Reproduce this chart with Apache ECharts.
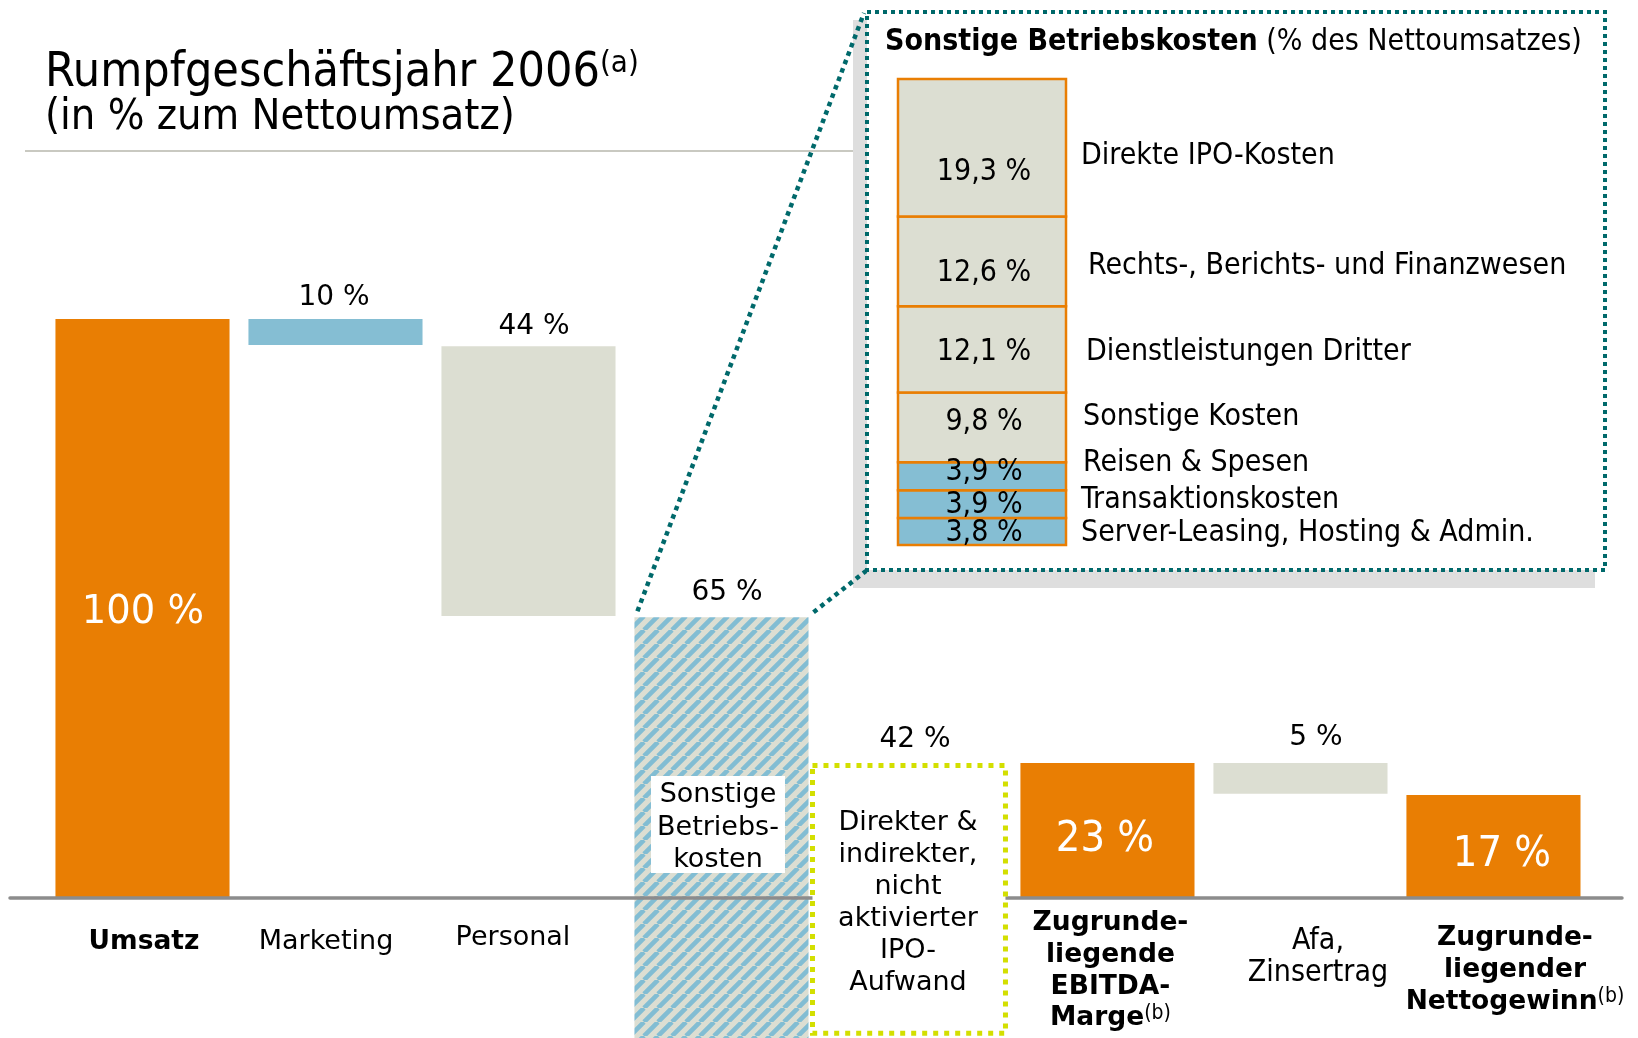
<!DOCTYPE html>
<html><head><meta charset="utf-8">
<script src="https://cdn.jsdelivr.net/npm/echarts@6/dist/echarts.min.js"></script>
<style>html,body{margin:0;padding:0;background:#fff}#c{width:1638px;height:1038px}</style>
</head><body><div id="c"></div>
<script>
// ---------- data ----------
const categories = ['Umsatz','Marketing','Personal','Sonstige Betriebskosten','IPO-Aufwand','EBITDA-Marge','Afa, Zinsertrag','Nettogewinn'];
const tickLabels = ['Umsatz','Marketing','Personal','Sonstige\nBetriebs-\nkosten',
  'Direkter &\nindirekter,\nnicht\naktivierter\nIPO-\nAufwand',
  'Zugrunde-\nliegende\nEBITDA-\nMarge(b)','Afa,\nZinsertrag','Zugrunde-\nliegender\nNettogewinn(b)'];
const valueLabels = ['100 %','10 %','44 %','65 %','42 %','23 %','5 %','17 %'];
// schematic bar extents as drawn (top, bottom) in chart units, Umsatz = 100
const barTop    = [100, 100, 95.3, 48.5, 23.3, 23.3, 23.3, 17.8];
const barBottom = [0, 95.5, 48.7, -24.2, -23.8, 0, 18.0, 0];

// inset: Sonstige Betriebskosten, bottom to top
const insetNames  = ['Server-Leasing, Hosting & Admin.','Transaktionskosten','Reisen & Spesen','Sonstige Kosten','Dienstleistungen Dritter','Rechts-, Berichts- und Finanzwesen','Direkte IPO-Kosten'];
const insetValues = [3.8, 3.9, 3.9, 9.8, 12.1, 12.6, 19.3];
const insetLabels = ['3,8 %','3,9 %','3,9 %','9,8 %','12,1 %','12,6 %','19,3 %'];

// ---------- styles ----------
const ORANGE = '#e97e03', BLUE = '#85bed3', BEIGE = '#dcded2', TEAL = '#00696b', LIME = '#d3df00';
const SANS = "'DejaVu Sans', Verdana, sans-serif";
const COND = "'DejaVu Sans Condensed', 'DejaVu Sans', sans-serif";
const TDY = 2; // text baseline nudge

function hatchCanvas(){
  const s = 14, c = document.createElement('canvas'); c.width = c.height = s;
  const g = c.getContext('2d');
  g.fillStyle = BEIGE; g.fillRect(0,0,s,s);
  g.strokeStyle = '#82bdd3'; g.lineWidth = 4.6; g.beginPath();
  for (const o of [-s, 0, s]) { g.moveTo(o, s); g.lineTo(o + s, 0); }
  g.stroke();
  return c;
}
const HATCH = {image: hatchCanvas(), repeat: 'repeat'};

const mainStyle = [
  {fill:ORANGE, vPos:'in', vdx:0.5, vdy:3, vSize:38.5, vFam:SANS, key:'b', ldx:1.5, ly:42, lh:31.7},
  {fill:BLUE, vPos:'top', vdx:-1.5, vdy:-23, key:'n', ldx:-9.5, ly:42, lh:32},
  {fill:BEIGE, vPos:'top', vdx:5.5, vdy:-21, key:'n', ldx:-15.5, ly:38, lh:32},
  {fill:HATCH, vPos:'top', vdx:5.5, vdy:-26, key:'n', ldx:-3.5, ly:-105, lh:32.5, box:[-70.5,-122,134,97], connect:true},
  {fill:'ipo', dx:-5.5, w:193, vPos:'top', vdx:0.5, vdy:-25, key:'n', ldx:-6.5, ly:-77, lh:32},
  {fill:ORANGE, vPos:'in', vdx:-2.5, vdy:7.5, vSize:43, vFam:COND, key:'b', ldx:3, ly:23.5, lh:31.7},
  {fill:BEIGE, vPos:'top', vdx:15.5, vdy:-27, key:'c', ldx:17.5, ly:41, lh:32},
  {fill:ORANGE, vPos:'in', vdx:8.5, vdy:6.5, vSize:43, vFam:COND, key:'b', ldx:21.5, ly:38.5, lh:32}
];
const insetStyle = [
  {fill:BLUE, vdy:0, ndx:15, ndy:0},
  {fill:BLUE, vdy:-1, ndx:15, ndy:-6},
  {fill:BLUE, vdy:-6, ndx:17, ndy:-15},
  {fill:BEIGE, vdy:-7, ndx:17, ndy:-12},
  {fill:BEIGE, vdy:1, ndx:20, ndy:1},
  {fill:BEIGE, vdy:10, ndx:22, ndy:3},
  {fill:BEIGE, vdy:22, ndx:15, ndy:6}
];

function richFor(lh){
  return {
    b:{fontFamily:SANS, fontWeight:'bold', fontSize:26.5, lineHeight:lh, color:'#000'},
    n:{fontFamily:SANS, fontWeight:'normal', fontSize:27, lineHeight:lh, color:'#000'},
    c:{fontFamily:COND, fontWeight:'normal', fontSize:30, lineHeight:lh, color:'#000'},
    s:{fontFamily:COND, fontWeight:'normal', fontSize:21, lineHeight:lh, verticalAlign:'top', color:'#000'}
  };
}
function toRich(label, key){
  return label.split('\n').map(l => {
    const m = l.match(/^(.*)(\([a-z]\))$/);
    return m ? `{${key}|${m[1]}}{s|${m[2]}}` : `{${key}|${l}}`;
  }).join('\n');
}

// ---------- rendering ----------
function renderMain(params, api, layer){
  const i = params.dataIndex;
  const st = mainStyle[i];
  const unit = api.size([1,0])[0];
  const ctr = api.coord([api.value(0), 0]);
  const axisY = ctr[1];
  const cx = ctr[0] + (st.dx || 0);
  const yTop = api.coord([api.value(0), api.value(1)])[1];
  const yBot = api.coord([api.value(0), api.value(2)])[1];
  const w = st.w || unit * 0.902;
  const children = [];
  if (layer === 'bars') {
    if (st.fill !== 'ipo') {
      children.push({type:'rect', shape:{x:cx - w/2, y:yTop, width:w, height:yBot - yTop}, style:{fill:st.fill}});
    }
    return {type:'group', children};
  }
  if (st.fill === 'ipo') {
    children.push({type:'rect', shape:{x:cx - w/2, y:yTop + 2.5, width:w, height:yBot - yTop - 5},
      style:{fill:'#fff', stroke:LIME, lineWidth:5, lineDash:[5,6]}});
  }
  if (st.box) {
    children.push({type:'rect', shape:{x:ctr[0] + st.box[0], y:axisY + st.box[1], width:st.box[2], height:st.box[3]}, style:{fill:'#fff'}});
  }
  if (st.connect) {
    const l = cx - w/2, r = cx + w/2;
    children.push({type:'line', shape:{x1:l + 3, y1:yTop - 6, x2:864, y2:13}, style:{stroke:TEAL, lineWidth:4.5, lineDash:[4.5,4.5]}});
    children.push({type:'line', shape:{x1:r + 5, y1:yTop - 5, x2:866, y2:571}, style:{stroke:TEAL, lineWidth:4.5, lineDash:[4.5,4.5]}});
  }
  // value label
  if (st.vPos === 'top') {
    children.push({type:'text', style:{text:valueLabels[i], x:ctr[0] + st.vdx, y:yTop + st.vdy + TDY, align:'center', verticalAlign:'middle',
      fontFamily:SANS, fontSize:28, fill:'#000'}});
  } else {
    children.push({type:'text', style:{text:valueLabels[i], x:ctr[0] + st.vdx, y:(yTop + yBot)/2 + st.vdy + TDY, align:'center', verticalAlign:'middle',
      fontFamily:st.vFam, fontSize:st.vSize, fill:'#fff'}});
  }
  // category label
  const n = tickLabels[i].split('\n').length;
  children.push({type:'text', z2:5, style:{text:toRich(tickLabels[i], st.key), rich:richFor(st.lh),
    x:ctr[0] + st.ldx, y:axisY + st.ly + (n - 1) * st.lh / 2 + TDY, align:'center', verticalAlign:'middle'}});
  return {type:'group', children};
}

function renderInset(params, api){
  const i = params.dataIndex;
  const st = insetStyle[i];
  const p0 = api.coord([0, api.value(1)]);
  const p1 = api.coord([1, api.value(2)]);
  const cy = (p0[1] + p1[1]) / 2;
  return {type:'group', children:[
    {type:'rect', shape:{x:p0[0], y:p1[1], width:p1[0] - p0[0], height:p0[1] - p1[1]}, style:{fill:st.fill, stroke:ORANGE, lineWidth:2.5}},
    {type:'text', z2:10, style:{text:insetLabels[i], x:(p0[0] + p1[0])/2 + 2, y:cy + st.vdy + TDY, align:'center', verticalAlign:'middle', fontFamily:COND, fontSize:30, fill:'#000'}},
    {type:'text', z2:10, style:{text:insetNames[i], x:p1[0] + st.ndx, y:cy + st.ndy + TDY, align:'left', verticalAlign:'middle', fontFamily:COND, fontSize:30, fill:'#000'}}
  ]};
}

const mainData = categories.map((c, i) => [i, barTop[i], barBottom[i]]);
let acc = 0;
const insetData = insetValues.map((v, i) => { const lo = acc; acc += v; return [i, lo, acc]; });
const insetTotal = acc;

const chart = echarts.init(document.getElementById('c'), null, {renderer:'canvas', width:1638, height:1038});
chart.setOption({
  animation:false,
  backgroundColor:'#fff',
  title:[
    {text:'{m|Rumpfgeschäftsjahr 2006}{s|(a)}', left:45, top:48, padding:0,
     textStyle:{fontWeight:'normal', rich:{m:{fontFamily:COND, fontWeight:'normal', fontSize:48, lineHeight:51, color:'#000'}, s:{fontFamily:COND, fontWeight:'normal', fontSize:31, lineHeight:51, verticalAlign:'top', color:'#000'}}}},
    {text:'(in % zum Nettoumsatz)', left:45, top:96, padding:0,
     textStyle:{fontFamily:COND, fontSize:43, fontWeight:'normal', lineHeight:44, color:'#000'}},
    {text:'{b|Sonstige Betriebskosten}{n| (% des Nettoumsatzes)}', left:885, top:27, padding:0,
     textStyle:{fontWeight:'normal', rich:{b:{fontFamily:COND, fontWeight:'bold', fontSize:30, color:'#000'}, n:{fontFamily:COND, fontWeight:'normal', fontSize:30, color:'#000'}}}}
  ],
  graphic:[
    {type:'line', z:-5, shape:{x1:25, y1:151, x2:853, y2:151}, style:{stroke:'#c9c9c1', lineWidth:2}},
    {type:'rect', z:-4, shape:{x:853, y:20, width:742, height:568}, style:{fill:'#dedede'}},
    {type:'rect', z:-3, shape:{x:867, y:12, width:738, height:558}, style:{fill:'#fff', stroke:TEAL, lineWidth:4, lineDash:[4,4]}}
  ],
  grid:[{left:10, right:16, top:319, bottom:0}, {left:898, width:168, top:79, height:466}],
  xAxis:[
    {type:'value', gridIndex:0, min:-0.6865, max:7.666, z:3,
     axisLine:{show:true, onZero:true, lineStyle:{color:'#8c8c8c', width:3.5}}, axisTick:{show:false}, axisLabel:{show:false}, splitLine:{show:false}},
    {type:'value', gridIndex:1, min:0, max:1, show:false, splitLine:{show:false}}
  ],
  yAxis:[
    {type:'value', gridIndex:0, min:-24.18, max:100, axisLine:{show:false}, axisTick:{show:false}, axisLabel:{show:false}, splitLine:{show:false}},
    {type:'value', gridIndex:1, min:0, max:insetTotal, show:false, splitLine:{show:false}}
  ],
  series:[
    {type:'custom', xAxisIndex:0, yAxisIndex:0, z:1, clip:false, data:mainData, renderItem:(p, api) => renderMain(p, api, 'bars')},
    {type:'custom', xAxisIndex:0, yAxisIndex:0, z:5, clip:false, data:mainData, renderItem:(p, api) => renderMain(p, api, 'top')},
    {type:'custom', xAxisIndex:1, yAxisIndex:1, z:2, clip:false, data:insetData, renderItem:renderInset}
  ]
});
</script></body></html>
